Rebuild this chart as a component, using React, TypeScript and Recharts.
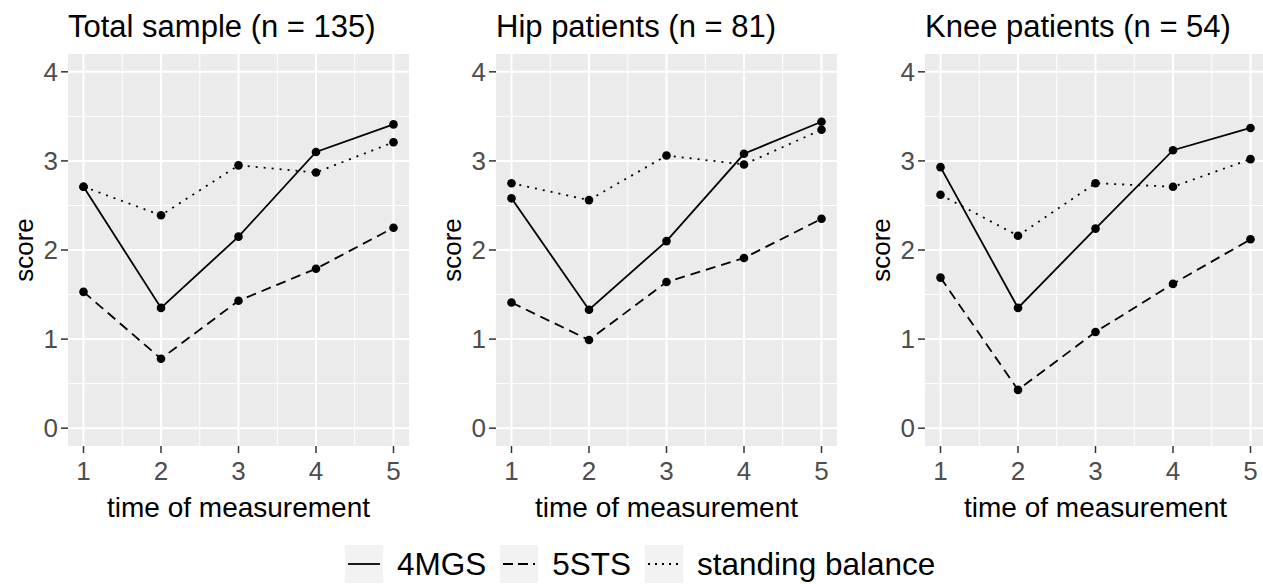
import React from "react";
import { LineChart, Line, XAxis, YAxis, CartesianGrid } from "recharts";

// time points on the x axis
const times = [1, 2, 3, 4, 5];

const panelTitles = ["Total sample (n = 135)", "Hip patients (n = 81)", "Knee patients (n = 54)"];
const seriesNames = ["4MGS", "5STS", "standing balance"];

// Total sample
const mgsTotal = [2.71, 1.35, 2.15, 3.1, 3.41];
const stsTotal = [1.53, 0.78, 1.43, 1.79, 2.25];
const balTotal = [2.71, 2.39, 2.95, 2.87, 3.21];

// Hip patients
const mgsHip = [2.58, 1.33, 2.1, 3.08, 3.44];
const stsHip = [1.41, 0.99, 1.64, 1.91, 2.35];
const balHip = [2.75, 2.56, 3.06, 2.96, 3.35];

// Knee patients
const mgsKnee = [2.93, 1.35, 2.24, 3.12, 3.37];
const stsKnee = [1.69, 0.43, 1.08, 1.62, 2.12];
const balKnee = [2.62, 2.16, 2.75, 2.71, 3.02];

const yTicks = [0, 1, 2, 3, 4];
const yMinor = [0.5, 1.5, 2.5, 3.5];
const xMinor = [1.5, 2.5, 3.5, 4.5];

const dashes = ["", "10 6", "2 6"];
const FONT = "'Liberation Sans', Arial, sans-serif";

function buildRows(mgs: number[], sts: number[], bal: number[]) {
  return times.map((t, i) => ({ time: t, mgs: mgs[i], sts: sts[i], bal: bal[i] }));
}

const panels = [
  { title: panelTitles[0], rows: buildRows(mgsTotal, stsTotal, balTotal), left: 0 },
  { title: panelTitles[1], rows: buildRows(mgsHip, stsHip, balHip), left: 428 },
  { title: panelTitles[2], rows: buildRows(mgsKnee, stsKnee, balKnee), left: 857 },
];

function ScoreLabel(props: any) {
  const vb = props.viewBox || {};
  const cx = 24;
  const cy = vb.y + vb.height / 2;
  return (
    <text
      x={cx}
      y={cy}
      transform={`rotate(-90, ${cx}, ${cy})`}
      textAnchor="middle"
      dominantBaseline="central"
      fontSize={26}
      fill="#000"
      fontFamily={FONT}
    >
      score
    </text>
  );
}

function Panel({ title, rows, left }: { title: string; rows: any[]; left: number }) {
  const keys = ["mgs", "sts", "bal"];
  return (
    <div style={{ position: "absolute", left, top: 0, width: 420, height: 530 }}>
      <div
        style={{
          position: "absolute",
          left: 68,
          top: 11,
          fontSize: 31,
          lineHeight: "31px",
          fontFamily: FONT,
          color: "#000",
          whiteSpace: "nowrap",
        }}
      >
        {title}
      </div>
      <LineChart width={420} height={530} data={rows} margin={{ top: 54, right: 11, bottom: 0, left: 0 }}>
        <CartesianGrid
          fill="#EBEBEB"
          stroke="#ffffff"
          strokeWidth={1}
          horizontalValues={yMinor}
          verticalValues={xMinor}
        />
        <CartesianGrid stroke="#ffffff" strokeWidth={2} horizontalValues={yTicks} verticalValues={times} />
        <XAxis
          dataKey="time"
          type="number"
          domain={[0.8, 5.2]}
          ticks={times}
          height={84}
          axisLine={false}
          tickSize={7}
          tickMargin={9}
          tickLine={{ stroke: "#333", strokeWidth: 1.5 }}
          tick={{ fill: "#4D4D4D", fontSize: 26, fontFamily: FONT }}
          label={{ value: "time of measurement", position: "insideBottom", offset: 13, fill: "#000", fontSize: 28, fontFamily: FONT }}
        />
        <YAxis
          type="number"
          domain={[-0.2, 4.2]}
          ticks={yTicks}
          width={68}
          axisLine={false}
          tickSize={7}
          tickMargin={3}
          tickLine={{ stroke: "#333", strokeWidth: 1.5 }}
          tick={{ fill: "#4D4D4D", fontSize: 26, fontFamily: FONT }}
          label={<ScoreLabel />}
        />
        {keys.map((k, i) => (
          <Line
            key={k}
            type="linear"
            dataKey={k}
            stroke="#000"
            strokeWidth={1.8}
            strokeDasharray={dashes[i] || undefined}
            dot={{ r: 4.3, fill: "#000", stroke: "#000", strokeWidth: 0 }}
            activeDot={false}
            isAnimationActive={false}
          />
        ))}
      </LineChart>
    </div>
  );
}

function Legend() {
  return (
    <div
      style={{
        position: "absolute",
        left: 345,
        top: 545,
        height: 38,
        display: "flex",
        alignItems: "center",
        fontFamily: FONT,
        fontSize: 31.5,
        color: "#000",
        whiteSpace: "nowrap",
      }}
    >
      {seriesNames.map((name, i) => (
        <div key={name} style={{ display: "flex", alignItems: "center", marginRight: 14 }}>
          <svg width={38} height={38} style={{ display: "block" }}>
            <rect x={0} y={0} width={38} height={38} fill="#F2F2F2" />
            <line
              x1={3}
              x2={35}
              y1={19}
              y2={19}
              stroke="#000"
              strokeWidth={1.8}
              strokeDasharray={dashes[i] ? (i === 1 ? "10 5" : "2 5") : undefined}
            />
          </svg>
          <span style={{ marginLeft: 14, lineHeight: "38px" }}>{name}</span>
        </div>
      ))}
    </div>
  );
}

export default function App() {
  return (
    <div
      style={{
        position: "fixed",
        left: 0,
        top: 0,
        width: 1263,
        height: 584,
        background: "#fff",
        overflow: "hidden",
      }}
    >
      {panels.map((p) => (
        <Panel key={p.title} title={p.title} rows={p.rows} left={p.left} />
      ))}
      <Legend />
    </div>
  );
}
